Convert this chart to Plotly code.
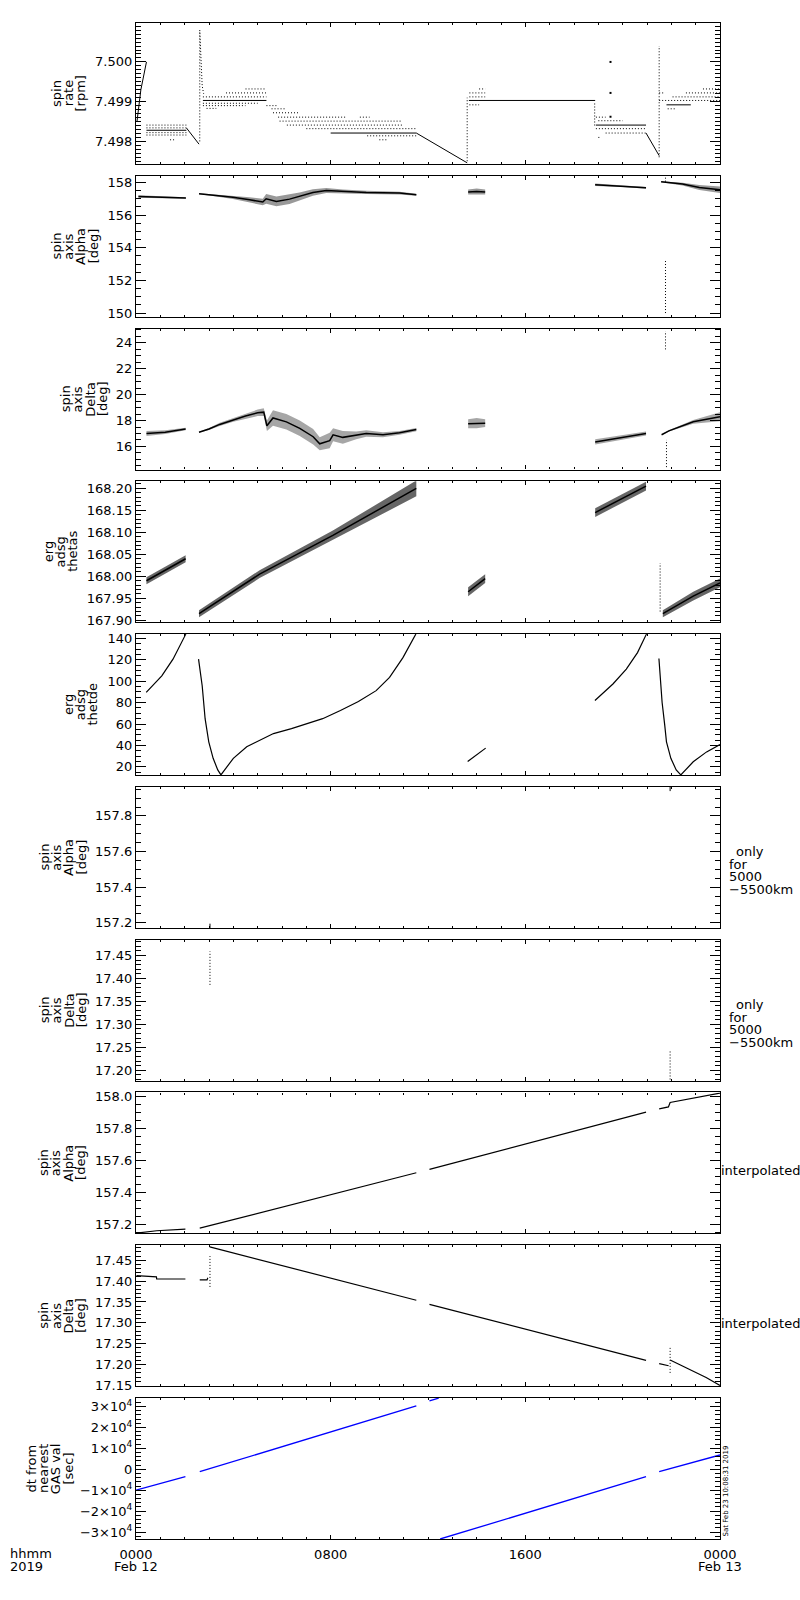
import plotly.graph_objects as go
from plotly.subplots import make_subplots

FONT = "DejaVu Sans"
W, H = 800, 1600
ML, MR, MT, MB = 136, 80, 23, 61          # plot area x 136..720, y 23..1539
NP = 10
GAP = 11.75
PH = (H - MT - MB - GAP * (NP - 1)) / NP

# ---------------- data (time = hours after 0000 UT, Feb 12 2019) ----------------
X_TICKVALS = [0, 8, 16, 24]
X_TICKTEXT = ["0000", "0800", "1600", "0000"]
X_DATES = ["Feb 12", "", "", "Feb 13"]

# panel 1: spin rate [rpm]
RATE_LINES_T = [[0.04, 0.2, 0.43], [2.07, 2.59], [11.52, 13.61], [20.96, 21.5],
                [2.62, 2.66, 2.72, 2.78]]
RATE_LINES_V = [[7.4985, 7.4993, 7.5000], [7.49834, 7.49793], [7.49821, 7.49746],
                [7.49821, 7.49764], [7.5008, 7.5000, 7.4994, 7.4992]]
RATE_SOLID = [(0.43, 2.07, 7.49828), (2.75, 5.36, 7.49903), (8.0, 11.52, 7.49821),
              (13.68, 18.87, 7.49903), (18.9, 20.96, 7.49841), (21.8, 22.8, 7.49892)]
RATE_DOTTED = [(0.43, 2.07, 7.49841), (0.43, 2.07, 7.49834), (0.43, 2.07, 7.49822),
               (0.43, 2.07, 7.49816), (1.4, 1.6, 7.49804),
               (4.5, 5.36, 7.49932), (3.7, 5.36, 7.49922), (2.75, 5.36, 7.49912),
               (2.75, 5.0, 7.49896), (2.75, 4.5, 7.49890), (2.9, 3.3, 7.49883),
               (5.36, 5.77, 7.49890), (5.57, 6.18, 7.49882), (5.63, 6.72, 7.49872),
               (5.84, 8.6, 7.49861), (9.2, 9.6, 7.49861), (5.9, 10.9, 7.49851),
               (6.2, 11.0, 7.49841), (7.0, 11.52, 7.49832), (9.5, 11.52, 7.49814),
               (10.0, 10.3, 7.49804),
               (14.1, 14.35, 7.49932), (13.7, 14.35, 7.49922), (13.7, 14.35, 7.49912),
               (13.7, 14.1, 7.49892),
               (18.9, 19.3, 7.49861), (19.0, 20.0, 7.49852), (18.9, 20.96, 7.49832),
               (19.3, 20.96, 7.49821), (19.0, 19.1, 7.49810),
               (23.3, 24.0, 7.49932), (21.5, 21.7, 7.49922), (22.6, 24.0, 7.49922),
               (22.05, 24.0, 7.49912), (21.5, 24.0, 7.49903), (21.85, 22.2, 7.49882)]
RATE_SPIKES = [(2.62, 7.4980, 7.5008), (13.61, 7.4975, 7.4991), (18.85, 7.4984, 7.4990),
               (21.5, 7.4976, 7.5004)]
RATE_DOTS_T = [19.5, 19.5, 19.5]
RATE_DOTS_V = [7.5000, 7.49922, 7.49862]

# panel 2: spin axis Alpha [deg]
ALPHA_T = [[0.1, 1.0, 2.05],
           [2.59, 3.3, 3.98, 4.67, 5.21, 5.35, 5.77, 6.31, 6.72, 7.27, 7.82, 8.5, 9.46, 10.83, 11.52],
           [13.65, 14.0, 14.35], [18.87, 20.0, 20.96], [21.58, 22.46, 23.15, 24.0]]
ALPHA_V = [[157.14, 157.1, 157.05],
           [157.31, 157.2, 157.09, 156.94, 156.80, 157.0, 156.84, 156.98, 157.14, 157.39, 157.51, 157.45, 157.39, 157.35, 157.25],
           [157.42, 157.45, 157.42], [157.86, 157.78, 157.67], [158.04, 157.90, 157.69, 157.55]]
ALPHA_S = [[0.07, 0.06, 0.05],
           [0.03, 0.06, 0.1, 0.15, 0.2, 0.3, 0.3, 0.3, 0.25, 0.2, 0.15, 0.12, 0.1, 0.08, 0.06],
           [0.15, 0.18, 0.15], [0.07, 0.06, 0.05], [0.03, 0.08, 0.15, 0.2]]
ALPHA_SPIKES = [(21.76, 150.0, 153.3), (21.76, 158.05, 158.4)]

# panel 3: spin axis Delta [deg]
DELTA_T = [[0.43, 1.2, 2.04],
           [2.59, 3.0, 3.44, 4.0, 4.5, 5.0, 5.25, 5.38, 5.63, 6.18, 6.73, 7.28, 7.55, 7.96, 8.1, 8.5, 9.05, 9.46, 10.15, 10.83, 11.52],
           [13.65, 14.0, 14.35], [18.87, 20.96], [21.6, 21.9, 22.9, 23.5, 24.0]]
DELTA_V = [[17.0, 17.1, 17.35],
           [17.1, 17.35, 17.7, 18.05, 18.35, 18.6, 18.65, 17.6, 18.2, 17.9, 17.4, 16.75, 16.2, 16.45, 16.9, 16.7, 16.85, 17.0, 16.9, 17.05, 17.3],
           [17.75, 17.8, 17.8], [16.35, 17.0], [16.9, 17.2, 17.9, 18.1, 18.3]]
DELTA_S = [[0.2, 0.15, 0.1],
           [0.03, 0.08, 0.12, 0.15, 0.2, 0.25, 0.3, 0.4, 0.6, 0.6, 0.6, 0.6, 0.5, 0.6, 0.5, 0.5, 0.3, 0.25, 0.2, 0.15, 0.12],
           [0.35, 0.4, 0.3], [0.2, 0.15], [0.03, 0.05, 0.15, 0.25, 0.35]]
DELTA_SPIKES = [(21.76, 23.5, 24.9), (21.8, 14.4, 16.5)]

# panel 4: erg adsg thetas
THETAS_T = [[0.43, 2.04], [2.59, 5.08, 8.09, 11.52], [13.65, 14.35], [18.87, 20.96], [21.65, 22.9, 24.0]]
THETAS_V = [[167.99, 168.04], [167.915, 168.005, 168.093, 168.200], [167.965, 167.995],
            [168.145, 168.205], [167.915, 167.955, 167.985]]
THETAS_S = [[0.008, 0.008], [0.008, 0.009, 0.011, 0.018], [0.01, 0.01], [0.01, 0.01], [0.008, 0.01, 0.01]]
THETAS_SPIKES = [(21.54, 167.92, 168.03)]

# panel 5: erg adsg thetde
THETDE_T = [[0.42, 1.06, 1.52, 1.85, 2.04, 2.1],
            [2.57, 2.72, 2.84, 2.99, 3.17, 3.36, 3.49, 3.75, 4.0, 4.55, 5.1, 5.65, 6.39, 6.94, 7.67, 8.4, 9.14, 9.87, 10.42, 10.97, 11.49, 11.55],
            [13.63, 14.37],
            [18.86, 19.6, 20.15, 20.61, 20.97, 21.02],
            [21.49, 21.62, 21.73, 21.8, 21.98, 22.2, 22.39, 22.65, 22.9, 23.45, 24.0]]
THETDE_V = [[89.5, 105, 120.6, 134.4, 143.7, 150],
            [120.6, 95.8, 65, 43.4, 28, 17.2, 12.5, 20.5, 28, 38.8, 44.9, 51.1, 55.7, 59.4, 65, 72.7, 81, 91.2, 103.6, 122, 143.7, 150],
            [25, 37.5],
            [82, 97.4, 111.3, 126.7, 143.7, 150],
            [121.2, 80.4, 58.8, 43.4, 28, 17.2, 12.5, 18.5, 24.8, 34, 40.9]]

# panel 6: spin axis Alpha, only for 5000-5500 km
ALPHA_RNG_T = [3.04, 21.95]
ALPHA_RNG_V = [157.18, 157.955]

# panel 7: spin axis Delta, only for 5000-5500 km
DELTA_RNG_SPIKES = [(3.04, 17.386, 17.459), (21.95, 17.18, 17.244)]

# panel 8: interpolated Alpha
ALPHA_INT_T = [[0.02, 0.85, 2.03], [2.62, 11.52], [12.06, 20.96], [21.5, 21.88, 21.95, 24.0]]
ALPHA_INT_V = [[157.145, 157.16, 157.17], [157.176, 157.524], [157.545, 157.904],
               [157.925, 157.937, 157.965, 158.024]]

# panel 9: interpolated Delta
DELTA_INT_T = [[0.02, 0.84, 0.85, 2.03], [2.62, 2.92, 2.95], [3.03, 11.52], [12.06, 20.96],
               [21.5, 21.89], [21.95, 23.43, 24.0]]
DELTA_INT_V = [[17.413, 17.410, 17.405, 17.405], [17.403, 17.403, 17.408], [17.482, 17.354],
               [17.344, 17.21], [17.202, 17.197], [17.211, 17.169, 17.15]]
DELTA_INT_SPIKES = [(3.04, 17.386, 17.46), (21.95, 17.18, 17.242)]

# panel 10: dt from nearest GAS val [sec]
DT_T = [[0.0, 2.03], [2.62, 11.52], [12.06, 12.44], [12.5, 20.96], [21.5, 24.0]]
DT_V = [[-10000, -3550], [-1150, 30300], [32700, 34000], [-33300, -3550], [-1150, 6850]]

# axes
Y_RANGES = [[7.49743, 7.50098], [149.77, 158.41], [14.21, 25.11], [167.8954, 168.216],
            [12.3, 144.0], [157.172, 157.963], [17.1774, 17.4844], [157.143, 158.028],
            [17.148, 17.486], [-33300, 34070]]
Y_TICKVALS = [[7.498, 7.499, 7.500], [150, 152, 154, 156, 158], [16, 18, 20, 22, 24],
              [167.90, 167.95, 168.00, 168.05, 168.10, 168.15, 168.20],
              [20, 40, 60, 80, 100, 120, 140], [157.2, 157.4, 157.6, 157.8],
              [17.20, 17.25, 17.30, 17.35, 17.40, 17.45], [157.2, 157.4, 157.6, 157.8, 158.0],
              [17.15, 17.20, 17.25, 17.30, 17.35, 17.40, 17.45],
              [-30000, -20000, -10000, 0, 10000, 20000, 30000]]
Y_TICKFMT = [".3f", ".0f", ".0f", ".2f", ".0f", ".1f", ".2f", ".1f", ".2f", None]
DT_TICKTEXT = ["\u22123\u00d710<sup>4</sup>", "\u22122\u00d710<sup>4</sup>", "\u22121\u00d710<sup>4</sup>",
               "0", "1\u00d710<sup>4</sup>", "2\u00d710<sup>4</sup>", "3\u00d710<sup>4</sup>"]
Y_MINOR = [0.0001, 0.5, 0.5, 0.01, 5, 0.05, 0.01, 0.05, 0.01, 2000]

TITLES = [["spin", "rate", "[rpm]"], ["spin", "axis", "Alpha", "[deg]"],
          ["spin", "axis", "Delta", "[deg]"], ["erg", "adsg", "thetas"],
          ["erg", "adsg", "thetde"], ["spin", "axis", "Alpha", "[deg]"],
          ["spin", "axis", "Delta", "[deg]"], ["spin", "axis", "Alpha", "[deg]"],
          ["spin", "axis", "Delta", "[deg]"], ["dt from", "nearest", "GAS val", "[sec]"]]
TITLE_LAST_X = [81, 93, 102, 73, 93, 81, 81, 81, 81, 68]
RIGHT_NOTES = {5: ["only", "for", "5000", "\u22125500km"], 6: ["only", "for", "5000", "\u22125500km"],
               7: ["interpolated"], 8: ["interpolated"]}
STAMP = "Sat Feb 23 10:08:31 2019"

# ---------------- figure ----------------
fig = make_subplots(rows=NP, cols=1, vertical_spacing=GAP / (H - MT - MB))
BLACK = "black"
DOT = "1px,2px"


def px_x(p):
    return (p - ML) / (W - ML - MR)


def px_y(p):
    return 1 - (p - MT) / (H - MT - MB)


def panel_top(k):
    return MT + k * (PH + GAP)


def add_lines(row, ts, vs, color=BLACK, width=1.2, dash=None):
    for t, v in zip(ts, vs):
        fig.add_trace(go.Scatter(x=t, y=v, mode="lines",
                                 line=dict(color=color, width=width, dash=dash),
                                 showlegend=False, hoverinfo="skip"), row=row, col=1)


def add_levels(row, levels, dash=None, width=1.0):
    xs, ys = [], []
    for t0, t1, lv in levels:
        xs += [t0, t1, None]
        ys += [lv, lv, None]
    fig.add_trace(go.Scatter(x=xs, y=ys, mode="lines",
                             line=dict(color=BLACK, width=width, dash=dash),
                             showlegend=False, hoverinfo="skip"), row=row, col=1)


def add_spikes(row, spikes):
    xs, ys = [], []
    for t, v0, v1 in spikes:
        xs += [t, t, None]
        ys += [v0, v1, None]
    fig.add_trace(go.Scatter(x=xs, y=ys, mode="lines",
                             line=dict(color=BLACK, width=1, dash=DOT),
                             showlegend=False, hoverinfo="skip"), row=row, col=1)


def add_bands(row, ts, vs, ss, fill, width=1.5):
    for t, v, s in zip(ts, vs, ss):
        up = [a + b for a, b in zip(v, s)]
        lo = [a - b for a, b in zip(v, s)]
        fig.add_trace(go.Scatter(x=t + t[::-1], y=up + lo[::-1], mode="lines",
                                 fill="toself", fillcolor=fill, line=dict(width=0),
                                 showlegend=False, hoverinfo="skip"), row=row, col=1)
        fig.add_trace(go.Scatter(x=t, y=v, mode="lines", line=dict(color=BLACK, width=width),
                                 showlegend=False, hoverinfo="skip"), row=row, col=1)


# panel 1
add_lines(1, RATE_LINES_T[:4], RATE_LINES_V[:4], width=1.0)
add_lines(1, RATE_LINES_T[4:], RATE_LINES_V[4:], width=1.0, dash=DOT)
add_levels(1, RATE_SOLID, width=1.0)
add_levels(1, RATE_DOTTED, dash=DOT, width=1.0)
add_spikes(1, RATE_SPIKES)
fig.add_trace(go.Scatter(x=RATE_DOTS_T, y=RATE_DOTS_V, mode="markers",
                         marker=dict(symbol="square", size=2, color=BLACK),
                         showlegend=False, hoverinfo="skip"), row=1, col=1)
# panel 2-4
add_bands(2, ALPHA_T, ALPHA_V, ALPHA_S, "rgba(0,0,0,0.4)")
add_spikes(2, ALPHA_SPIKES)
add_bands(3, DELTA_T, DELTA_V, DELTA_S, "rgba(0,0,0,0.35)")
add_spikes(3, DELTA_SPIKES)
add_bands(4, THETAS_T, THETAS_V, THETAS_S, "rgba(0,0,0,0.6)")
add_spikes(4, THETAS_SPIKES)
# panel 5
add_lines(5, THETDE_T, THETDE_V, width=1.2)
# panel 6
fig.add_trace(go.Scatter(x=ALPHA_RNG_T, y=ALPHA_RNG_V, mode="markers",
                         marker=dict(symbol="line-ns-open", size=4, color=BLACK, line=dict(width=1)),
                         showlegend=False, hoverinfo="skip"), row=6, col=1)
# panel 7
add_spikes(7, DELTA_RNG_SPIKES)
# panel 8-9
add_lines(8, ALPHA_INT_T, ALPHA_INT_V, width=1.2)
add_lines(9, DELTA_INT_T, DELTA_INT_V, width=1.2)
add_spikes(9, DELTA_INT_SPIKES)
# panel 10
add_lines(10, DT_T, DT_V, color="rgb(0,0,255)", width=1.3)

# axes styling
for k in range(NP):
    r = k + 1
    fig.update_xaxes(row=r, col=1, range=[0, 24], showline=True, linecolor=BLACK, linewidth=1.2,
                     mirror="ticks", ticks="inside", ticklen=4, tickwidth=1, tickcolor=BLACK,
                     tickvals=X_TICKVALS, ticktext=X_TICKTEXT, showgrid=False, zeroline=False,
                     showticklabels=(r == NP), ticklabelstandoff=3,
                     tickfont=dict(family=FONT, size=13, color=BLACK),
                     minor=dict(dtick=1, tick0=0, ticks="inside", ticklen=2, tickcolor=BLACK,
                                showgrid=False))
    yd = dict(range=Y_RANGES[k], showline=True, linecolor=BLACK, linewidth=1.2, mirror="ticks",
              ticks="inside", ticklen=10, tickwidth=1, tickcolor=BLACK, showgrid=False,
              zeroline=False, tickvals=Y_TICKVALS[k],
              tickfont=dict(family=FONT, size=13, color=BLACK),
              minor=dict(dtick=Y_MINOR[k], tick0=Y_TICKVALS[k][0], ticks="inside", ticklen=5,
                         tickcolor=BLACK, showgrid=False))
    if Y_TICKFMT[k]:
        yd["ticktext"] = [format(v, Y_TICKFMT[k]) for v in Y_TICKVALS[k]]
    else:
        yd["ticktext"] = DT_TICKTEXT
    fig.update_yaxes(row=r, col=1, **yd)

ann = []
for k in range(NP):
    mid = panel_top(k) + PH / 2
    lines = TITLES[k]
    n = len(lines)
    for i, txt in enumerate(lines):
        xc = TITLE_LAST_X[k] - (n - 1 - i) * 12.3
        ann.append(dict(text=txt, x=px_x(xc), y=px_y(mid), xref="paper", yref="paper",
                        xanchor="center", yanchor="middle", textangle=-90, showarrow=False,
                        font=dict(family=FONT, size=13, color=BLACK)))
    if k in RIGHT_NOTES:
        notes = RIGHT_NOTES[k]
        if len(notes) == 1:
            ann.append(dict(text=notes[0], x=px_x(719), y=px_y(mid + 8), xref="paper", yref="paper",
                            xanchor="left", yanchor="middle", showarrow=False,
                            font=dict(family=FONT, size=13, color=BLACK)))
        else:
            for i, txt in enumerate(notes):
                xl = 734 if i == 0 else 727
                ann.append(dict(text=txt, x=px_x(xl), y=px_y(mid - 5.5 + i * 12.5), xref="paper",
                                yref="paper", xanchor="left", yanchor="middle", showarrow=False,
                                font=dict(family=FONT, size=13, color=BLACK)))

# date line under hhmm ticks
for tv, d in zip(X_TICKVALS, X_DATES):
    if d:
        ann.append(dict(text=d, x=tv / 24, y=px_y(1566), xref="paper", yref="paper",
                        xanchor="center", yanchor="middle", showarrow=False,
                        font=dict(family=FONT, size=13, color=BLACK)))
ann.append(dict(text="hhmm", x=px_x(8), y=px_y(1553.5), xref="paper", yref="paper",
                xanchor="left", yanchor="middle", showarrow=False,
                font=dict(family=FONT, size=13, color=BLACK)))
ann.append(dict(text="2019", x=px_x(8), y=px_y(1566), xref="paper", yref="paper",
                xanchor="left", yanchor="middle", showarrow=False,
                font=dict(family=FONT, size=13, color=BLACK)))
ann.append(dict(text=STAMP, x=px_x(725), y=px_y(1539), xref="paper", yref="paper",
                xanchor="center", yanchor="bottom", textangle=-90, showarrow=False,
                font=dict(family=FONT, size=7, color=BLACK)))

fig.update_layout(width=W, height=H, margin=dict(l=ML, r=MR, t=MT, b=MB, pad=0),
                  paper_bgcolor="white", plot_bgcolor="white", annotations=ann,
                  showlegend=False, font=dict(family=FONT, size=13, color=BLACK))

fig.write_html("out.html", config={"displayModeBar": False},
               post_script="document.body.style.margin='0px';document.body.style.overflow='hidden';")
